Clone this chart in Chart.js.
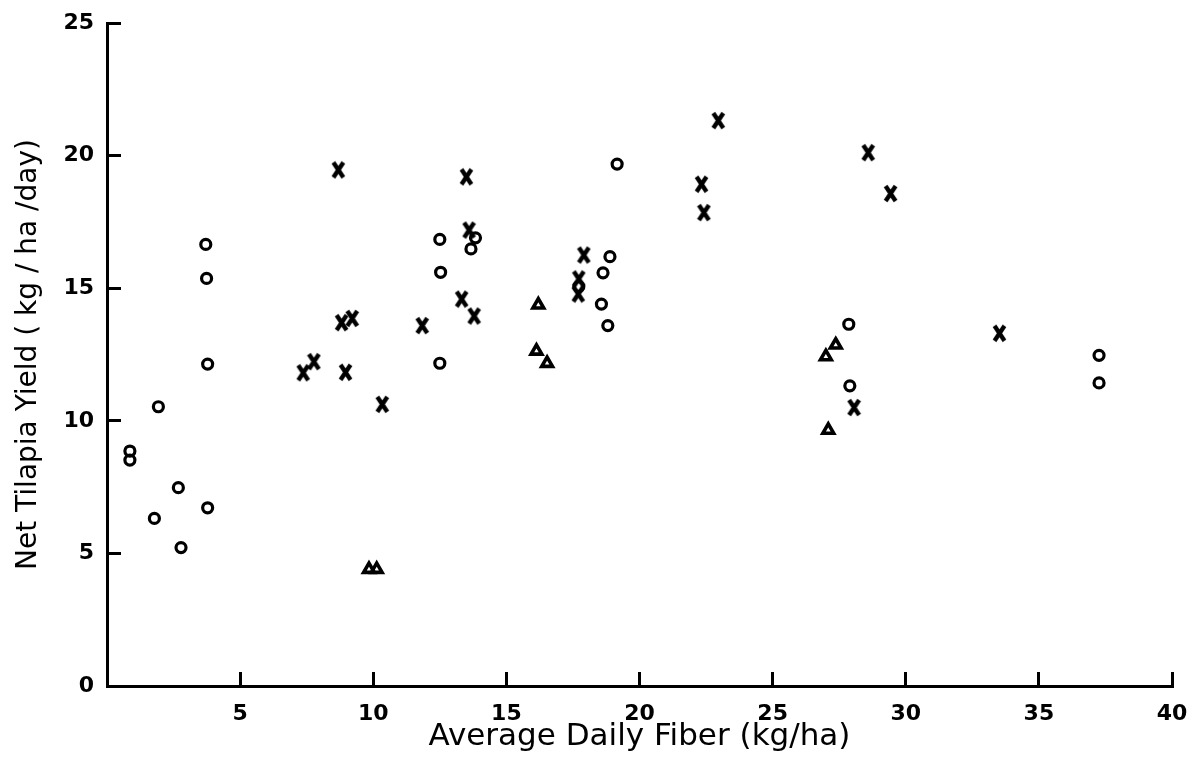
<!DOCTYPE html>
<html>
<head>
<meta charset="utf-8">
<script src="https://cdn.jsdelivr.net/npm/chart.js@4/dist/chart.umd.min.js"></script>
<style>
  html, body { margin: 0; padding: 0; background: #fff; }
  #wrap { width: 1204px; height: 772px; }
</style>
</head>
<body>
<div id="wrap"><canvas id="tilapia-yield-by-fiber"></canvas></div>
<script>
// open circles
const circleX = [0.86, 0.86, 1.93, 1.78, 2.68, 2.78, 3.78, 3.78, 3.71, 3.74, 12.5, 12.53, 12.5, 13.84, 13.67, 19.16, 18.89, 18.63, 17.72, 18.57, 18.81, 27.86, 27.9, 37.26, 37.26];
const circleY = [8.86, 8.52, 10.53, 6.32, 7.48, 5.22, 6.72, 12.14, 16.65, 15.37, 16.84, 15.6, 12.17, 16.9, 16.48, 19.68, 16.19, 15.58, 15.06, 14.4, 13.59, 13.64, 11.32, 12.47, 11.43];

// crosses
const crossX = [8.69, 8.81, 9.21, 7.37, 7.77, 8.96, 10.34, 13.5, 13.6, 13.32, 13.79, 11.84, 17.91, 17.72, 17.7, 22.96, 22.33, 22.42, 28.59, 29.43, 33.52, 28.06];
const crossY = [19.46, 13.7, 13.86, 11.81, 12.23, 11.83, 10.62, 19.2, 17.19, 14.59, 13.95, 13.59, 16.25, 15.35, 14.78, 21.32, 18.92, 17.85, 20.11, 18.57, 13.3, 10.5];

// triangles
const triX = [9.84, 10.13, 16.2, 16.13, 16.53, 27.37, 27.0, 27.09];
const triY = [4.4, 4.4, 14.37, 12.63, 12.17, 12.86, 12.42, 9.65];

const xTicks = [5, 10, 15, 20, 25, 30, 35, 40];
const yTicks = [0, 5, 10, 15, 20, 25];

const toPoints = (xs, ys) => xs.map((x, i) => ({ x: x, y: ys[i] }));

// letter-like X marker (taller than wide)
const xMark = document.createElement('canvas');
xMark.width = 15;
xMark.height = 19;
(function() {
  const c = xMark.getContext('2d');
  c.strokeStyle = '#000';
  c.lineWidth = 4.4;
  c.beginPath();
  c.moveTo(2.5, 2); c.lineTo(12.5, 17);
  c.moveTo(12.5, 2); c.lineTo(2.5, 17);
  c.stroke();
})();

Chart.defaults.font.family = '"DejaVu Sans", sans-serif';
Chart.defaults.color = '#000';

new Chart(
  document.getElementById('tilapia-yield-by-fiber'),
  {
    type: 'scatter',
    data: {
      datasets: [
        {
          label: 'o',
          data: toPoints(circleX, circleY),
          pointStyle: 'circle',
          pointRadius: 5,
          borderWidth: 3.2,
          borderColor: '#000',
          backgroundColor: 'rgba(0,0,0,0)'
        },
        {
          label: 'x',
          data: toPoints(crossX, crossY),
          pointStyle: xMark,
          pointRadius: 8,
          borderColor: '#000',
          backgroundColor: '#000'
        },
        {
          label: 'triangle',
          data: toPoints(triX, triY),
          pointStyle: 'triangle',
          pointRadius: 6.2,
          borderWidth: 3.6,
          borderColor: '#000',
          backgroundColor: 'rgba(0,0,0,0)'
        }
      ]
    },
    options: {
      responsive: true,
      maintainAspectRatio: false,
      animation: false,
      layout: { padding: { left: 0, top: 23, right: 32, bottom: 0 } },
      plugins: {
        legend: { display: false },
        tooltip: { enabled: false }
      },
      scales: {
        x: {
          type: 'linear',
          min: 0,
          max: 40,
          afterFit: s => { s.height = 86; s.paddingLeft = 0; s.paddingRight = 0; },
          afterBuildTicks: s => { s.ticks = xTicks.map(v => ({ value: v })); },
          border: { display: true, color: '#000', width: 3 },
          grid: { drawOnChartArea: false, drawTicks: true, tickLength: -14, tickWidth: 3, tickColor: '#000' },
          ticks: { padding: 29, font: { size: 22, weight: 'bold' }, color: '#000', maxRotation: 0 },
          title: {
            display: true,
            text: 'Average Daily Fiber (kg/ha)',
            font: { size: 31 },
            color: '#000',
            padding: { top: 0, bottom: 16 }
          }
        },
        y: {
          type: 'linear',
          min: 0,
          max: 25,
          afterFit: s => { s.width = 107; s.paddingTop = 0; s.paddingBottom = 0; },
          afterBuildTicks: s => { s.ticks = yTicks.map(v => ({ value: v })); },
          border: { display: true, color: '#000', width: 3 },
          grid: { drawOnChartArea: false, drawTicks: true, tickLength: -14, tickWidth: 3, tickColor: '#000' },
          ticks: { padding: 27, font: { size: 22, weight: 'bold' }, color: '#000' },
          title: {
            display: true,
            text: 'Net Tilapia Yield ( kg / ha /day)',
            font: { size: 28 },
            color: '#000',
            padding: { top: 12, bottom: 0 }
          }
        }
      }
    }
  }
);
</script>
</body>
</html>
